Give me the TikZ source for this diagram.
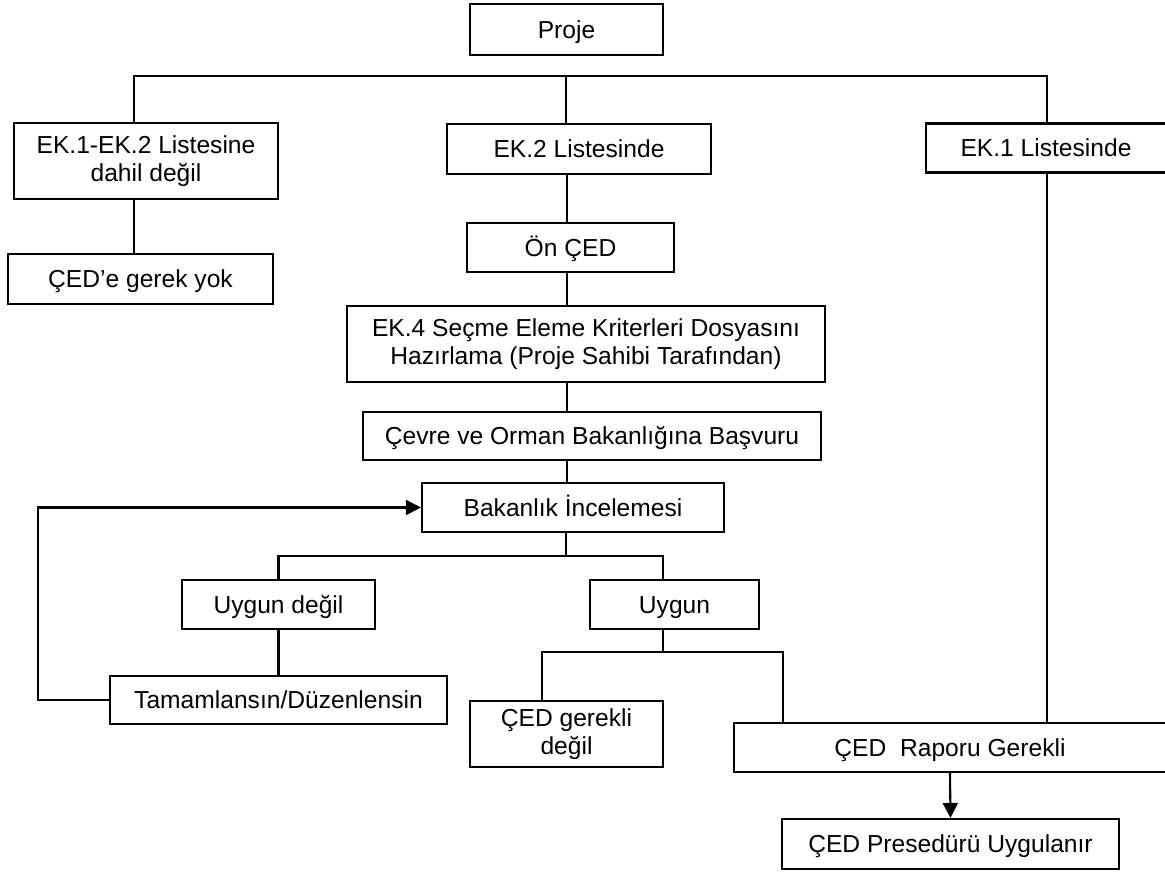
\documentclass[tikz,border=0pt]{standalone}
\usepackage{fontspec}
\setmainfont{Liberation Sans}
\usetikzlibrary{arrows.meta}

\begin{document}
\begin{tikzpicture}[
      x=1pt, y=-1pt,
      block/.style ={rectangle, draw, line width=2.1pt, align=center, inner sep=0pt},
      line1/.style ={block, text height=17.6pt, text depth=0pt},
      link/.style  ={line width=2.1pt},
      arrow/.style ={link, -{Triangle[length=15pt,width=15pt]}},
      font=\fontsize{24.6}{28.5}\selectfont
    ]
    \useasboundingbox (0,0) rectangle (1165,872);

    \node [line1, minimum width=193, minimum height=51] (proje) at (566.5,29.5) {Proje} ;
    \node [block, minimum width=264, minimum height=76] (ekdis) at (146,161) {EK.1-EK.2 Listesine\\dahil değil} ;
    \node [line1, minimum width=265, minimum height=50] (gerek) at (140.5,279) {ÇED’e gerek yok} ;
    \node [line1, minimum width=264, minimum height=50] (ek2) at (579,149) {EK.2 Listesinde} ;
    \node [line1, minimum width=240, minimum height=49] (ek1) at (1046,148) {EK.1 Listesinde} ;
    \node [line1, minimum width=207, minimum height=49] (once) at (570.5,247.5) {Ön ÇED} ;
    \node [block, minimum width=478, minimum height=76] (ek4) at (586,344) {EK.4 Seçme Eleme Kriterleri Dosyasını\\Hazırlama (Proje Sahibi Tarafından)} ;
    \node [line1, minimum width=458, minimum height=48] (cevre) at (592,436) {Çevre ve Orman Bakanlığına Başvuru} ;
    \node [line1, minimum width=302, minimum height=49] (bakanlik) at (573,507.5) {Bakanlık İncelemesi} ;
    \node [line1, minimum width=193, minimum height=49] (uygundegil) at (278.5,604.5) {Uygun değil} ;
    \node [line1, minimum width=169, minimum height=49] (uygun) at (674.5,604.5) {Uygun} ;
    \node [line1, minimum width=337, minimum height=48] (tamam) at (278.5,700) {Tamamlansın/Düzenlensin} ;
    \node [block, minimum width=193, minimum height=66, anchor=north] (gereklidegil) at (566.5,700) {ÇED gerekli\\değil} ;
    \node [line1, minimum width=432, minimum height=49] (rapor) at (950,747.5) {ÇED\ \ Raporu Gerekli} ;
    \node [line1, minimum width=337, minimum height=50] (presedur) at (950.5,844) {ÇED Presedürü Uygulanır} ;

    % bus lines
    \coordinate (b1l) at (134,76) ;
    \coordinate (b1m) at (566,76) ;
    \coordinate (b1r) at (1047,76) ;
    \coordinate (c) at (567,0) ;
    \coordinate (b2) at (566,556) ;
    \coordinate (b2l) at (278.5,556) ;
    \coordinate (b2r) at (663,556) ;
    \coordinate (b3) at (663,652) ;
    \coordinate (b3l) at (542,652) ;
    \coordinate (b3r) at (783,652) ;
    \coordinate (geri) at (38,0) ;

    \draw [link] (ekdis.north -| b1l) -- (b1l) -- (b1r) -- (ek1.north -| b1r) ;
    \draw [link] (b1m) -- (ek2.north -| b1m) ;
    \draw [link] (ekdis.south -| b1l) -- (gerek.north -| b1l) ;
    \draw [link] (ek1.south -| b1r) -- (rapor.north -| b1r) ;

    \draw [link] (ek2.south -| c) -- (once.north -| c) ;
    \draw [link] (once.south -| c) -- (ek4.north -| c) ;
    \draw [link] (ek4.south -| c) -- (cevre.north -| c) ;
    \draw [link] (cevre.south -| c) -- (bakanlik.north -| c) ;

    \draw [link] (bakanlik.south -| b2) -- (b2) ;
    \draw [link] (uygundegil.north -| b2l) -- (b2l) -- (b2r) -- (uygun.north -| b2r) ;
    \draw [link] (uygundegil.south) -- (tamam.north) ;
    \draw [arrow] (tamam.west) -- (tamam.west -| geri) |- (bakanlik.west) ;

    \draw [link] (uygun.south -| b3) -- (b3) ;
    \draw [link] (gereklidegil.north -| b3l) -- (b3l) -- (b3r) -- (rapor.north -| b3r) ;
    \draw [arrow] (rapor.south) -- (presedur.north) ;
  \end{tikzpicture}
\end{document}
